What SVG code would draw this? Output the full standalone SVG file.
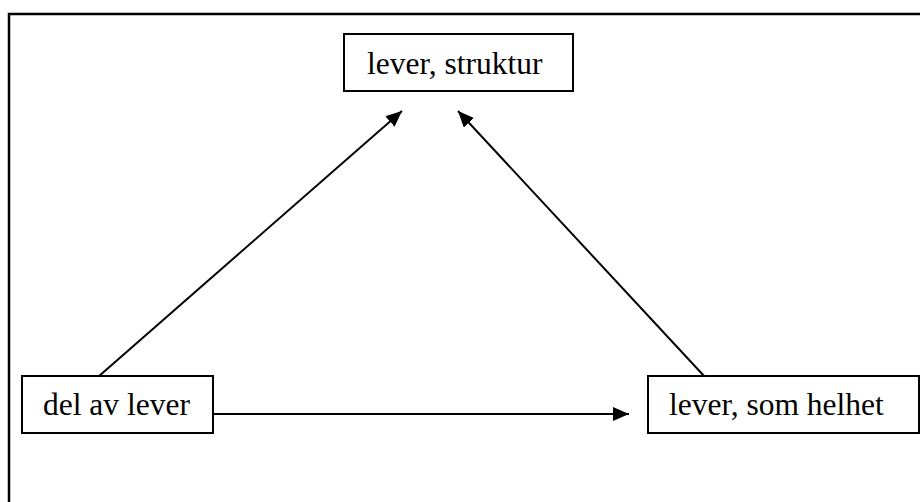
<svg xmlns="http://www.w3.org/2000/svg" width="920" height="502" viewBox="0 0 920 502">
<style>
.box{fill:#fff;stroke:#000;stroke-width:2}
.lbl{font-family:"Liberation Serif","Times New Roman",serif;font-size:31.5px;fill:#000}
.con{stroke:#000;stroke-width:2;fill:none}
</style>
<defs>
<marker id="ah" viewBox="0 0 16 14" refX="16" refY="7" markerWidth="16" markerHeight="14" markerUnits="userSpaceOnUse" orient="auto">
<path d="M0,0 L16,7 L0,14 Z" fill="#000"/>
</marker>
</defs>
<rect x="0" y="0" width="920" height="502" fill="#fff"/>
<rect x="9" y="14" width="920" height="500" fill="none" stroke="#000" stroke-width="2.5"/>
<g id="connectors">
<line class="con" x1="98" y1="377" x2="402" y2="111" marker-end="url(#ah)"/>
<line class="con" x1="705" y1="377" x2="458" y2="111" marker-end="url(#ah)"/>
<line class="con" x1="213" y1="414" x2="629" y2="414" marker-end="url(#ah)"/>
</g>
<g id="node-struktur">
<rect class="box" x="344" y="34" width="229" height="57"/>
<text class="lbl" x="367" y="74">lever, struktur</text>
</g>
<g id="node-del">
<rect class="box" x="22" y="376" width="191" height="57"/>
<text class="lbl" x="43" y="415">del av lever</text>
</g>
<g id="node-helhet">
<rect class="box" x="648" y="376" width="271" height="57"/>
<text class="lbl" x="669" y="415">lever, som helhet</text>
</g>
</svg>
